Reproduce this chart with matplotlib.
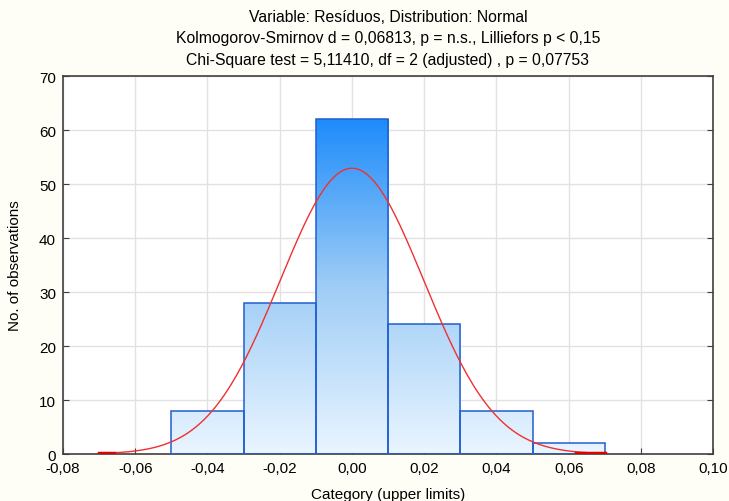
import numpy as np
import matplotlib.pyplot as plt
from matplotlib.colors import LinearSegmentedColormap

plt.rcParams['font.family'] = ['Liberation Sans', 'DejaVu Sans']

# histogram of residuals (upper limits of categories)
bin_edges = [-0.05, -0.03, -0.01, 0.01, 0.03, 0.05, 0.07]
counts = [8, 28, 62, 24, 8, 2]
xticks = [-0.08, -0.06, -0.04, -0.02, 0.0, 0.02, 0.04, 0.06, 0.08, 0.10]
yticks = [0, 10, 20, 30, 40, 50, 60, 70]

# fitted normal
mean = 0.0
sd = 0.0199
n_obs = sum(counts)
bin_w = 0.02

bg = '#fffef6'
fig = plt.figure(figsize=(7.29, 5.02), dpi=100, facecolor=bg)
ax = fig.add_axes([0.0864, 0.0936, 0.892, 0.753])
ax.set_facecolor('white')

cmap = LinearSegmentedColormap.from_list('bars', ['#eaf5ff', '#9fcdf6', '#1e8cfb'])
grad = np.linspace(0, 1, 256).reshape(-1, 1)

ax.set_xlim(-0.08, 0.10)
ax.set_ylim(0, 70)
ax.grid(True, color='#e2e2e2', lw=1)
ax.set_axisbelow(True)

for i, c in enumerate(counts):
    x0, x1 = bin_edges[i], bin_edges[i + 1]
    bar = ax.bar(x0, c, width=x1 - x0, align='edge', facecolor='none',
                 edgecolor='#1f5fd0', lw=1.1, zorder=3)[0]
    im = ax.imshow(grad, cmap=cmap, origin='lower', aspect='auto',
                   extent=[x0, x1, 0, 62], zorder=2)
    im.set_clip_path(bar)

xs = np.linspace(-0.07, 0.07, 300)
ys = n_obs * bin_w / (sd * np.sqrt(2 * np.pi)) * np.exp(-0.5 * ((xs - mean) / sd) ** 2)
ax.plot(xs, ys, color='#f03030', lw=1, zorder=4)
ax.plot([-0.07, -0.066], [0.15, 0.15], color='#e00000', lw=2.5, zorder=4)
ax.plot([0.062, 0.07], [0.15, 0.15], color='#e00000', lw=2.5, zorder=4)

ax.set_xticks(xticks)
ax.set_xticklabels([f'{v:.2f}'.replace('.', ',') for v in xticks])
ax.set_yticks(yticks)
ax.tick_params(direction='in', length=4, labelsize=11, color='#404040',
               right=True, top=False, pad=5)
for s in ax.spines.values():
    s.set_color('#404040')
    s.set_linewidth(1.2)

ax.set_xlabel('Category (upper limits)', fontsize=11, labelpad=9)
ax.set_ylabel('No. of observations', fontsize=11, labelpad=12)
fig.text(0.532, 0.957, 'Variable: Resíduos, Distribution: Normal', ha='center', fontsize=11.3)
fig.text(0.532, 0.914, 'Kolmogorov-Smirnov d = 0,06813, p = n.s., Lilliefors p < 0,15',
         ha='center', fontsize=11.3)
fig.text(0.532, 0.871, 'Chi-Square test = 5,11410, df = 2 (adjusted) , p = 0,07753',
         ha='center', fontsize=11.3)

fig.savefig('out.png', dpi=100, facecolor=bg)
